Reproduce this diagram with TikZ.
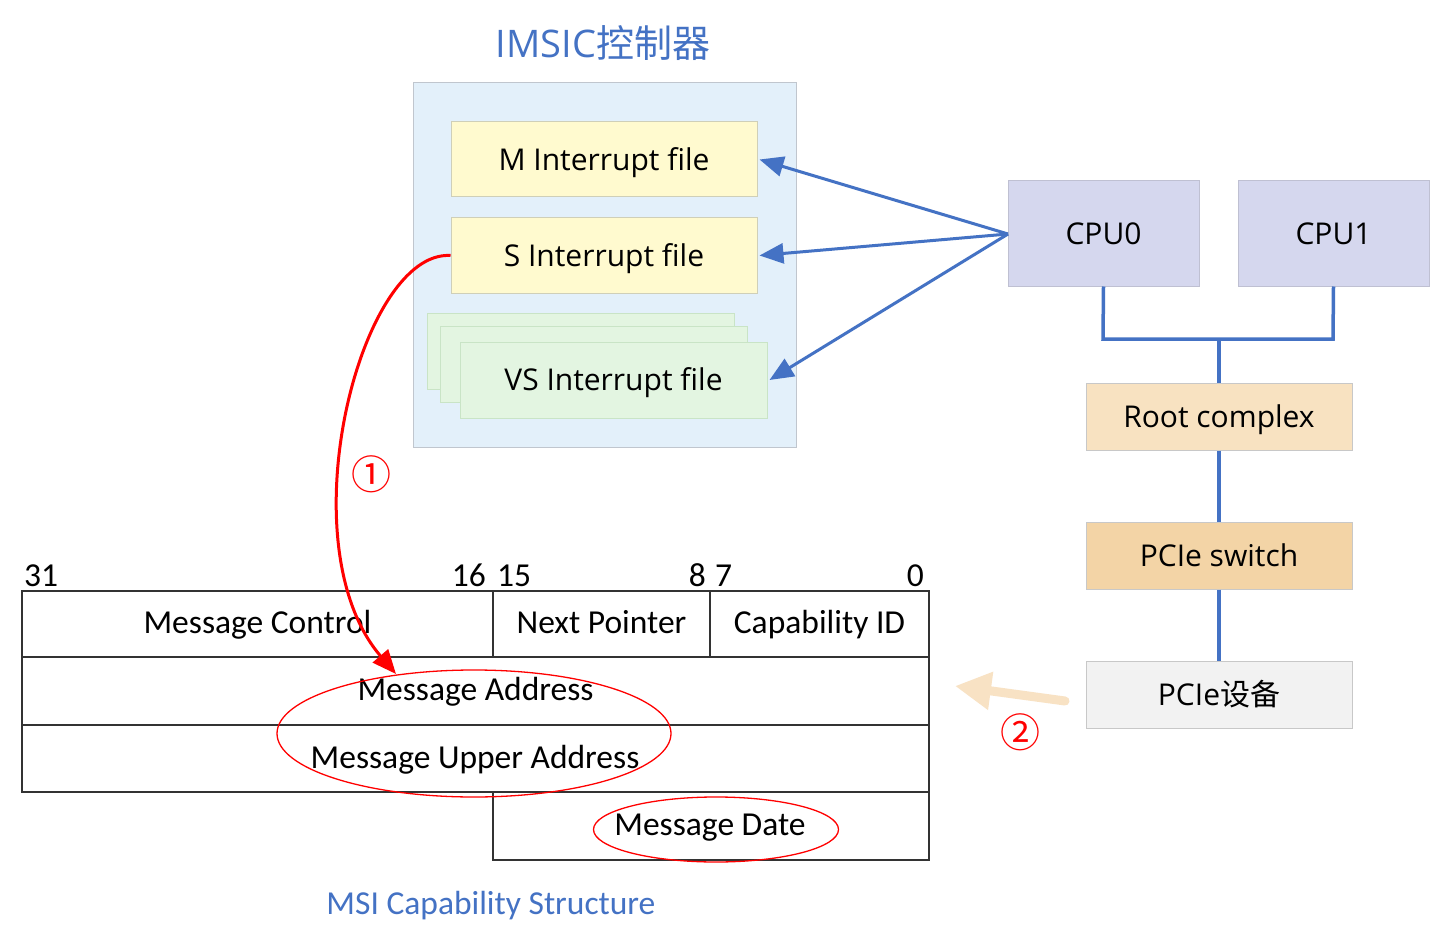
\documentclass[tikz,border=0pt]{standalone}
\usepackage{fontspec}
\setmainfont{Open Sans}
\newfontfamily\cjkfont{Noto Sans CJK SC}
\newfontfamily\calfont{Carlito}
\usetikzlibrary{arrows.meta}
\definecolor{tblue}{HTML}{4472C4}
\definecolor{outerfill}{HTML}{E3F0FA}
\definecolor{outerdraw}{HTML}{C0C6CE}
\definecolor{yfill}{HTML}{FFFACF}
\definecolor{ydraw}{HTML}{CFCFB8}
\definecolor{gfill}{HTML}{E3F5E1}
\definecolor{gdraw}{HTML}{C9E4C6}
\definecolor{cpufill}{HTML}{D5D7EE}
\definecolor{cpudraw}{HTML}{BFC0D2}
\definecolor{rootfill}{HTML}{F8E2C1}
\definecolor{swfill}{HTML}{F3D4A6}
\definecolor{devfill}{HTML}{F2F2F2}
\definecolor{boxdraw}{HTML}{C8C8C8}
\definecolor{peach}{HTML}{F8E2C4}
\definecolor{tline}{HTML}{333333}
\tikzset{
  boxtext/.style={font=\fontsize{30}{35}\selectfont, text=black, text height=21.4pt, text depth=0pt},
  ifile/.style={boxtext, draw=ydraw, fill=yfill, line width=1pt, minimum width=306pt, minimum height=75pt, inner sep=0pt},
  vsfile/.style={boxtext, draw=gdraw, fill=gfill, line width=1pt, minimum width=307pt, minimum height=76pt, inner sep=0pt},
  cpubox/.style={boxtext, draw=cpudraw, fill=cpufill, line width=1pt, minimum width=191pt, minimum height=105pt, inner sep=0pt},
  pcibox/.style={boxtext, draw=boxdraw, line width=1pt, minimum width=266pt, minimum height=67pt, inner sep=0pt},
  celltext/.style={font=\calfont\fontsize{33.5}{38}\selectfont, text height=25pt, text depth=7pt},
  cell/.style={draw=tline, line width=1.6pt, inner sep=0pt, celltext},
  bitlbl/.style={font=\calfont\fontsize{33.5}{38}\selectfont, inner sep=0pt},
  bluearrow/.style={draw=tblue, line width=3pt, -{Triangle[length=24pt,width=20pt]}},
  bus/.style={draw=tblue, line width=3.5pt},
  redellipse/.style={draw=red, line width=1.3pt},
  circnum/.style={text=red, font=\cjkfont\fontsize{40}{44}\selectfont, inner sep=0pt}
}
\begin{document}
\begin{tikzpicture}[x=1pt,y=-1pt]
\useasboundingbox (0,0) rectangle (1446,944);
\fill[white] (0,0) rectangle (1446,944);
% title
\node[text=tblue, font=\fontsize{38}{44}\selectfont, inner sep=0pt] (title) at (603,43) {IMSIC{\cjkfont 控制器}};
% IMSIC outer box
\node[draw=outerdraw, fill=outerfill, line width=1pt, minimum width=383pt, minimum height=364pt, inner sep=0pt] (imsic) at (604.5,265) {};
\node[ifile] (mfile) at (604,159.5) {M Interrupt file};
\node[ifile] (sfile) at (604,255.5) {S Interrupt file};
\node[vsfile] (vs3) at (581,351) {};
\node[vsfile] (vs2) at (594,364.5) {};
\node[vsfile] (vs1) at (613.5,380) {VS Interrupt file};
% CPUs
\node[cpubox] (cpu0) at (1103.5,233.5) {CPU0};
\node[cpubox] (cpu1) at (1333.5,233.5) {CPU1};
\node[pcibox, fill=rootfill] (root) at (1219,416.5) {Root complex};
\node[pcibox, fill=swfill] (sw) at (1219,555.5) {PCIe switch};
\node[pcibox, fill=devfill] (dev) at (1219,694.5) {PCIe{\cjkfont 设备}};
\coordinate (busL) at (1103,339);
\coordinate (busR) at (1333,339);
\coordinate (busM) at (1219,339);
\draw[bus] (cpu0.south) -- (busL) -- (busR) -- (cpu1.south);
\draw[bus] (busM) -- (root.north);
\draw[bus] (root.south) -- (sw.north);
\draw[bus] (sw.south) -- (dev.north);
% blue arrows
\coordinate (cpuL) at (1008,234);
\draw[bluearrow] (cpuL) -- ([xshift=2pt]mfile.east);
\draw[bluearrow] (cpuL) -- ([xshift=2pt]sfile.east);
\draw[bluearrow] (cpuL) -- ([xshift=2pt]vs1.east);
% table
\node[cell, minimum width=471pt, minimum height=66pt] (mc) at (257.5,624) {Message Control};
\node[cell, minimum width=217pt, minimum height=66pt] (np) at (601.5,624) {Next Pointer};
\node[cell, minimum width=219pt, minimum height=66pt] (cid) at (819.5,624) {Capability ID};
\node[cell, minimum width=907pt, minimum height=68pt] (ma) at (475.5,691) {Message Address};
\node[cell, minimum width=907pt, minimum height=67pt] (mua) at (475.5,758.5) {};
\node[celltext, inner sep=0pt] (muat) at (475,759) {Message Upper Address};
\node[cell, minimum width=436pt, minimum height=68pt] (md) at (711,826) {};
\node[celltext, inner sep=0pt] (mdt) at (710,826) {Message Date};
% bit labels
\node[bitlbl, anchor=base west] (b31) at (24,586) {31};
\node[bitlbl, anchor=base east] (b16) at (486,586) {16};
\node[bitlbl, anchor=base west] (b15) at (497,586) {15};
\node[bitlbl, anchor=base east] (b8) at (706,586) {8};
\node[bitlbl, anchor=base west] (b7) at (715,586) {7};
\node[bitlbl, anchor=base east] (b0) at (924,586) {0};
% ellipses
\coordinate (e1c) at (474,733.5);
\draw[redellipse] (e1c) ellipse [x radius=197pt, y radius=63.5pt];
\coordinate (e2c) at (716,829.5);
\draw[redellipse] (e2c) ellipse [x radius=122.5pt, y radius=32.5pt];
% red curve
\coordinate (redtip) at (396,674);
\draw[red, line width=3pt, -{Triangle[length=24pt,width=20pt]}] (sfile.west) .. controls (360,250) and (285,545) .. (redtip);
\node[circnum] (n1) at (371,474) {①};
% orange arrow
\coordinate (otip) at (955,686);
\coordinate (otail) at (1065,701);
\draw[peach, line width=9pt, line cap=round, -{Triangle[length=36pt,width=36pt]}] (otail) -- (otip);
\node[circnum] (n2) at (1020,732) {②};
% caption
\node[text=tblue, font=\calfont\fontsize{33.5}{38}\selectfont, inner sep=0pt] (caption) at (491,906) {MSI Capability Structure};
\end{tikzpicture}
\end{document}
